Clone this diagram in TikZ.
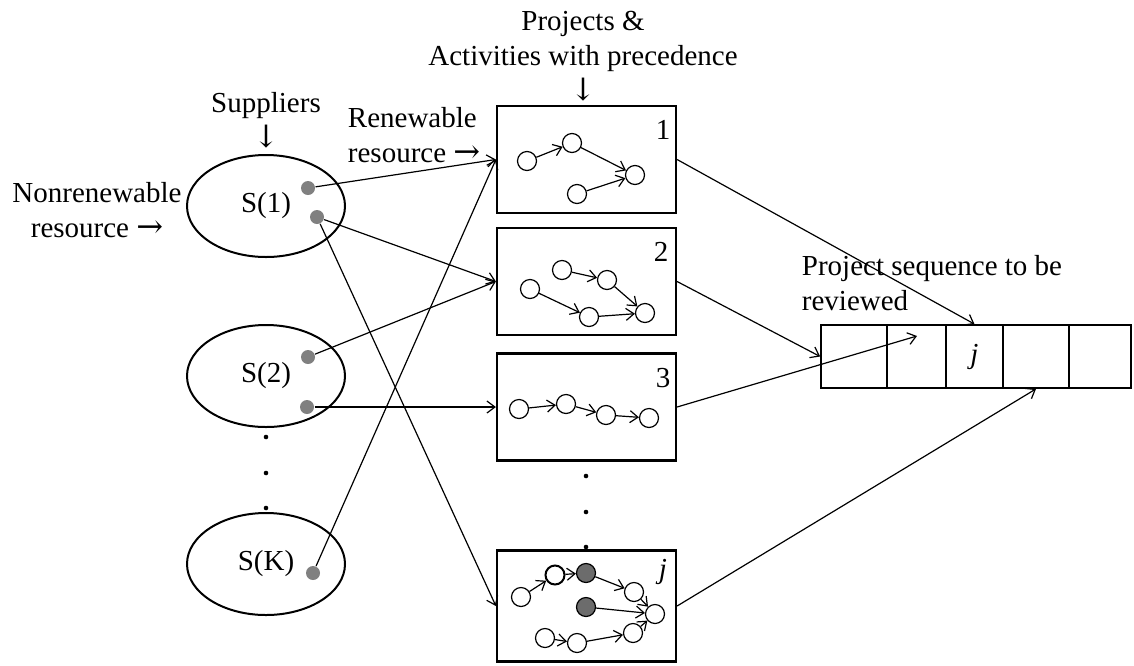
\documentclass[tikz,border=0pt]{standalone}
\usepackage{fontspec}
\setmainfont{Liberation Serif}
\newfontfamily\arrfont{DejaVu Serif}
\usetikzlibrary{arrows.meta}
\usetikzlibrary{shapes.geometric}
\usetikzlibrary{positioning}
\tikzset{supp/.style = {draw, ellipse, line width=2pt, minimum width=158, minimum height=102}}
\tikzset{dot/.style = {fill=gray, circle, inner sep=0, minimum size=14}}
\tikzset{proj/.style = {draw, rectangle, line width=2.2pt, minimum width=179, minimum height=107}}
\tikzset{act/.style = {draw, circle, fill=white, line width=1.2pt, inner sep=0, minimum size=19}}
\tikzset{gact/.style = {act, fill=gray!85!black}}
\tikzset{cell/.style = {draw, rectangle, line width=1.8pt, minimum height=63, inner sep=0}}
\newcommand{\rarr}{{\arrfont\fontsize{32}{32}\selectfont →}}
\newcommand{\darr}{{\arrfont\fontsize{31}{31}\selectfont ↓}}

\begin{document}
\begin{tikzpicture}[x=1pt, y=-1pt, font=\fontsize{29}{35}\selectfont,
    >={Straight Barb[length=8pt, width=12pt]}, line width=1.2pt]
    \useasboundingbox (0,0) rectangle (1134,665);

    % suppliers
    \node [supp] (s1) at (266,206) {S(1)};
    \node [supp] (s2) at (266,376) {S(2)};
    \node [supp] (sk) at (266,564) {S(K)};
    \foreach \y in {437,473,508} \fill (266,\y) circle (2.3);

    \node [dot] (d11) at (308,188) {};
    \node [dot] (d12) at (317,217) {};
    \node [dot] (d21) at (308,357) {};
    \node [dot] (d22) at (307,407) {};
    \node [dot] (dk) at (313,573) {};

    % projects
    \node [proj] (p1) at (586.5,159.5) {};
    \node [proj] (p2) at (586.5,281.5) {};
    \node [proj] (p3) at (586.5,407) {};
    \node [proj, minimum height=111] (pj) at (586.5,606) {};
    \foreach \y in {476,512,547} \fill (586,\y) circle (2.3);

    \node (n1) at (663,130) {1};
    \node (n2) at (661,252) {2};
    \node (n3) at (663,378) {3};
    \node (nj) at (663,572) {\textit{j}};

    \node [act] (a11) at (527,161) {};
    \node [act] (a12) at (572,143) {};
    \node [act] (a13) at (635,175) {};
    \node [act] (a14) at (577,194) {};
    \draw [->] (a11) -- (a12);
    \draw [->] (a12) -- (a13);
    \draw [->] (a14) -- (a13);

    \node [act] (a21) at (562,270) {};
    \node [act] (a22) at (607,280) {};
    \node [act] (a23) at (530,289) {};
    \node [act] (a24) at (589,317) {};
    \node [act] (a25) at (645,313) {};
    \draw [->] (a21) -- (a22);
    \draw [->] (a22) -- (a25);
    \draw [->] (a23) -- (a24);
    \draw [->] (a24) -- (a25);

    \node [act] (a31) at (519,409) {};
    \node [act] (a32) at (566,404) {};
    \node [act] (a33) at (606,415) {};
    \node [act] (a34) at (649,418) {};
    \draw [->] (a31) -- (a32);
    \draw [->] (a32) -- (a33);
    \draw [->] (a33) -- (a34);

    \node [act] (aj1) at (521,597) {};
    \node [act, line width=2pt] (aj2) at (555,575) {};
    \node [gact] (aj3) at (586,573) {};
    \node [act] (aj4) at (634,592) {};
    \node [gact] (aj5) at (586,607) {};
    \node [act] (aj6) at (655,614) {};
    \node [act] (aj7) at (545,638) {};
    \node [act] (aj8) at (577,643) {};
    \node [act] (aj9) at (633,633) {};
    \draw [->] (aj1) -- (aj2);
    \draw [->] (aj2) -- (aj3);
    \draw [->] (aj3) -- (aj4);
    \draw [->] (aj4) -- (aj6);
    \draw [->] (aj5) -- (aj6);
    \draw [->] (aj7) -- (aj8);
    \draw [->] (aj8) -- (aj9);
    \draw [->] (aj9) -- (aj6);

    % sequence
    \node [cell, minimum width=66] (c1) at (854,356.5) {};
    \node [cell, minimum width=59] (c2) at (916.5,356.5) {};
    \node [cell, minimum width=57] (c3) at (974.5,356.5) {\textit{j}};
    \node [cell, minimum width=66] (c4) at (1036,356.5) {};
    \node [cell, minimum width=62] (c5) at (1100,356.5) {};
    \coordinate (c2in) at (917,336);

    % labels
    \node [align=center] (supl) at (266,120) {Suppliers\\\darr};
    \node [align=center] (nonr) at (97,210) {Nonrenewable\\resource \rarr};
    \node [align=left, anchor=west] (renl) at (344,135) {Renewable\\resource \rarr};
    \node [align=center] (projl) at (583,56) {Projects \&\\Activities with precedence\\\darr};
    \node [align=left, anchor=west] (seql) at (798,283) {Project sequence to be\\reviewed};

    % resources to projects
    \draw [->] (d11) -- (p1.west);
    \draw [->] (d12) -- (p2.west);
    \draw [->] (d12) -- (pj.west);
    \draw [->] (d21) -- (p2.west);
    \draw [->] (d22) -- (p3.west);
    \draw [->] (dk) -- (p1.west);

    % projects to sequence
    \draw [->] (p1.east) -- (c3.north);
    \draw [->] (p2.east) -- (c1.west);
    \draw [->] (p3.east) -- (c2in);
    \draw [->] (pj.east) -- (c4.south);
  \end{tikzpicture}
\end{document}
